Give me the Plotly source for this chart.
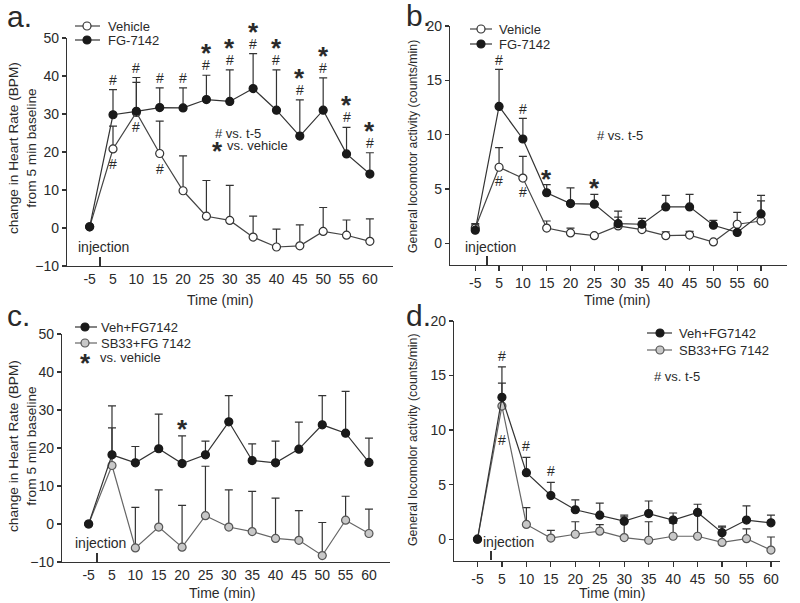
import plotly.graph_objects as go

# ---------------- data ----------------
time_labels = ["-5", "5", "10", "15", "20", "25", "30", "35", "40", "45", "50", "55", "60"]

# panel a: heart rate, Vehicle vs FG-7142
a_veh_mean = [0.3, 20.8, 30.4, 19.6, 9.8, 3.1, 2.0, -2.4, -5.0, -4.7, -0.9, -1.9, -3.5]
a_veh_sem = [0, 6.0, 7.9, 8.5, 9.2, 9.4, 9.2, 5.5, 4.7, 5.5, 6.3, 4.0, 5.9]
a_fg_mean = [0.3, 29.8, 30.7, 31.7, 31.6, 33.8, 33.3, 36.7, 31.0, 24.2, 31.0, 19.5, 14.2]
a_fg_sem = [0, 6.6, 8.9, 5.2, 5.3, 6.4, 8.3, 9.2, 10.6, 9.5, 8.5, 7.0, 5.6]
a_hash_fg = ["5", "10", "15", "20", "25", "30", "35", "40", "45", "50", "55", "60"]
a_star_fg = ["25", "30", "35", "40", "45", "50", "55", "60"]
a_hash_veh = ["5", "10", "15"]

# panel b: locomotor activity, Vehicle vs FG-7142
b_veh_mean = [1.4, 7.0, 6.0, 1.4, 0.95, 0.7, 1.6, 1.26, 0.7, 0.75, 0.12, 1.75, 2.05]
b_veh_sem = [0.3, 1.8, 2.0, 0.65, 0.45, 0, 0.8, 0.4, 0.35, 0.35, 0, 1.1, 1.85]
b_fg_mean = [1.2, 12.6, 9.6, 4.65, 3.65, 3.6, 1.8, 1.75, 3.35, 3.35, 1.66, 1.0, 2.7]
b_fg_sem = [0.6, 3.4, 1.9, 0.75, 1.45, 0.9, 1.15, 0.55, 1.05, 1.15, 0.45, 0, 1.7]
b_hash_fg = ["5", "10"]
b_star_fg = ["15", "25"]
b_hash_veh = ["5", "10"]

# panel c: heart rate, Veh+FG7142 vs SB33+FG 7142
c_vfg_mean = [0, 18.2, 16.1, 19.8, 15.9, 18.2, 26.9, 16.7, 16.1, 19.7, 26.1, 23.9, 16.2]
c_vfg_sem = [0, 12.9, 4.3, 9.1, 7.3, 3.6, 6.9, 4.4, 5.7, 7.1, 7.7, 11.0, 6.4]
c_sb_mean = [0, 15.4, -6.3, -0.8, -6.1, 2.2, -0.8, -2.0, -3.8, -4.3, -8.3, 1.0, -2.5]
c_sb_sem = [0, 9.9, 10.7, 9.8, 11.0, 13.0, 9.8, 10.6, 10.6, 7.8, 8.7, 6.3, 6.4]
c_star_vfg = ["20"]

# panel d: locomotor activity, Veh+FG7142 vs SB33+FG 7142
d_vfg_mean = [0, 13.0, 6.1, 4.0, 2.7, 2.2, 1.65, 2.35, 1.75, 2.45, 0.6, 1.75, 1.5]
d_vfg_sem = [0, 2.8, 1.4, 1.2, 0.9, 1.1, 0.55, 1.15, 0.65, 0.75, 0.6, 1.3, 0.7]
d_sb_mean = [0, 12.2, 1.35, 0.1, 0.45, 0.73, 0.15, -0.1, 0.27, 0.27, -0.3, 0.05, -1.0]
d_sb_sem = [0, 2.1, 1.55, 0.7, 1.15, 0.6, 1.9, 1.7, 1.2, 2.3, 1.4, 0.9, 1.2]
d_hash_vfg = ["5", "10", "15"]
d_hash_sb = ["5"]

# ---------------- styling ----------------
W, H = 800, 603
FONT = "Liberation Sans, Arial, sans-serif"
TXT = "#2a2a2a"
AX = "#333333"
xpos = list(range(len(time_labels)))


def px(x):
    return x / W


def py(y):
    return 1 - y / H


STYLES = {
    "open": dict(fill="white", edge="#333333", line="#444444"),
    "filled": dict(fill="#1a1a1a", edge="#1a1a1a", line="#333333"),
    "gray": dict(fill="#c8c8c8", edge="#555555", line="#666666"),
}

fig = go.Figure()


def add_series(mean, sem, style, xa, ya):
    st = STYLES[style]
    fig.add_trace(go.Scatter(
        x=xpos, y=mean, mode="lines+markers", xaxis=xa, yaxis=ya,
        line=dict(color=st["line"], width=1.2),
        marker=dict(size=8, color=st["fill"], line=dict(color=st["edge"], width=1.2)),
        error_y=dict(type="data", symmetric=False, array=sem, arrayminus=[0] * len(sem),
                     color="#333333", thickness=1.2, width=4),
        showlegend=False, hoverinfo="skip"))


add_series(a_veh_mean, a_veh_sem, "open", "x", "y")
add_series(a_fg_mean, a_fg_sem, "filled", "x", "y")
add_series(b_veh_mean, b_veh_sem, "open", "x2", "y2")
add_series(b_fg_mean, b_fg_sem, "filled", "x2", "y2")
add_series(c_sb_mean, c_sb_sem, "gray", "x3", "y3")
add_series(c_vfg_mean, c_vfg_sem, "filled", "x3", "y3")
add_series(d_sb_mean, d_sb_sem, "gray", "x4", "y4")
add_series(d_vfg_mean, d_vfg_sem, "filled", "x4", "y4")

annotations = []
shapes = []
STAR_SIZE = 26


def ann(text, x, y, xref="paper", yref="paper", size=14, xanchor="center",
        yanchor="middle", xshift=0, yshift=0, angle=0):
    annotations.append(dict(text=text, x=x, y=y, xref=xref, yref=yref, showarrow=False,
                            font=dict(size=size, color=TXT, family=FONT),
                            xanchor=xanchor, yanchor=yanchor, xshift=xshift,
                            yshift=yshift, textangle=angle))


def star(x, y, xref="paper", yref="paper", yshift=0):
    ann("<b>*</b>", x, y, xref, yref, size=STAR_SIZE, yshift=yshift - 6)


def marks(labels, mean, sem, xref, yref, sym, shift, from_top=True):
    for lab in labels:
        i = time_labels.index(lab)
        yv = mean[i] + sem[i] if from_top else mean[i]
        if sym == "*":
            star(xpos[i], yv, xref, yref, yshift=shift)
        else:
            ann("#", xpos[i], yv, xref, yref, size=14, yshift=shift)


# significance markers
marks(a_hash_fg, a_fg_mean, a_fg_sem, "x", "y", "#", 10)
marks(a_star_fg, a_fg_mean, a_fg_sem, "x", "y", "*", 28)
marks(a_hash_veh, a_veh_mean, a_veh_sem, "x", "y", "#", -15, from_top=False)
marks(b_hash_fg, b_fg_mean, b_fg_sem, "x2", "y2", "#", 9)
marks(b_star_fg, b_fg_mean, b_fg_sem, "x2", "y2", "*", 12)
marks(b_hash_veh, b_veh_mean, b_veh_sem, "x2", "y2", "#", -14, from_top=False)
marks(c_star_vfg, c_vfg_mean, c_vfg_sem, "x3", "y3", "*", 13)
marks(d_hash_vfg, d_vfg_mean, d_vfg_sem, "x4", "y4", "#", 11)
marks(d_hash_sb, d_sb_mean, d_sb_sem, "x4", "y4", "#", -34, from_top=False)


def legend_item(x0, x1, xm, y, style, text, tx):
    st = STYLES[style]
    shapes.append(dict(type="line", xref="paper", yref="paper", x0=px(x0), x1=px(x1),
                       y0=py(y), y1=py(y), line=dict(color=st["line"], width=1.2)))
    shapes.append(dict(type="circle", xref="paper", yref="paper", xsizemode="pixel",
                       ysizemode="pixel", xanchor=px(xm), yanchor=py(y), x0=-4, x1=4,
                       y0=-4, y1=4, fillcolor=st["fill"],
                       line=dict(color=st["edge"], width=1.2)))
    ann(text, px(tx), py(y), size=13, xanchor="left")


# legends
legend_item(75, 100, 87, 26, "open", "Vehicle", 106)
legend_item(75, 100, 87, 40, "filled", "FG-7142", 106)
legend_item(470, 492, 481, 29, "open", "Vehicle", 497)
legend_item(470, 492, 481, 44, "filled", "FG-7142", 497)
legend_item(75, 97, 85, 327, "filled", "Veh+FG7142", 99)
legend_item(75, 97, 85, 343, "gray", "SB33+FG 7142", 99)
legend_item(647, 672, 660, 333, "filled", "Veh+FG7142", 677)
legend_item(647, 672, 660, 350, "gray", "SB33+FG 7142", 677)

# key texts
ann("# vs. t-5", px(213), py(133), size=13, xanchor="left")
star(px(217), py(145))
ann("vs. vehicle", px(225), py(145), size=13, xanchor="left")
ann("# vs. t-5", px(595), py(136), size=13, xanchor="left")
star(px(85), py(357))
ann("vs. vehicle", px(98), py(357), size=13, xanchor="left")
ann("# vs. t-5", px(652), py(376), size=13, xanchor="left")

# injection marks
for xc, xt, ybase, ytext in [(100, 103, 266, 247), (487, 490, 265, 247),
                             (97, 100, 562, 543), (491, 508, 560, 542)]:
    shapes.append(dict(type="line", xref="paper", yref="paper", x0=px(xc), x1=px(xc),
                       y0=py(ybase), y1=py(ybase - 9), line=dict(color=AX, width=2)))
    ann("injection", px(xt), py(ytext), size=14)

# panel letters
ann("a.", px(5), py(17), size=30, xanchor="left")
ann("b.", px(404), py(16), size=30, xanchor="left")
ann("c.", px(5), py(315), size=30, xanchor="left")
ann("d.", px(404), py(315), size=30, xanchor="left")

# axis titles
ann("change in Heart Rate (BPM)<br>from 5 min baseline", px(22), py(148), size=13.7, angle=-90)
ann("change in Heart Rate (BPM)<br>from 5 min baseline", px(22), py(446), size=13.7, angle=-90)
ann("General locomotor activity (counts/min)", px(413), py(147), size=12.3, angle=-90)
ann("General locomolor activity (counts/min)", px(413), py(440), size=12.3, angle=-90)
ann("Time (min)", px(220), py(300), size=14)
ann("Time (min)", px(617), py(300), size=14)
ann("Time (min)", px(222), py(593), size=14)
ann("Time (min)", px(612), py(593), size=14)


def xaxis(domain, rng, ticks, anchor):
    return dict(domain=domain, range=rng, tickmode="array", tickvals=xpos,
                ticktext=time_labels, showgrid=False, zeroline=False, showline=True,
                linecolor=AX, linewidth=1.2, ticks="outside" if ticks else "",
                ticklen=5, tickcolor=AX, tickwidth=1.2, automargin=False, anchor=anchor,
                tickfont=dict(size=14, color=TXT, family=FONT), fixedrange=True)


def yaxis(domain, rng, tickvals, anchor):
    return dict(domain=domain, range=rng, tickmode="array", tickvals=tickvals,
                showgrid=False, zeroline=False, showline=True, linecolor=AX,
                linewidth=1.2, ticks="outside", ticklen=4, tickcolor=AX, tickwidth=1.2,
                tickfont=dict(size=14, color=TXT, family=FONT), anchor=anchor,
                automargin=False, fixedrange=True)


fig.update_layout(
    template="none",
    width=W, height=H, margin=dict(l=0, r=0, t=0, b=0, pad=0), autosize=False,
    paper_bgcolor="white", plot_bgcolor="white",
    font=dict(family=FONT, color=TXT), hovermode=False,
    xaxis=xaxis([px(67), px(393)], [-0.97, 12.99], False, "y"),
    yaxis=yaxis([py(266), py(38)], [-10, 50], [-10, 0, 10, 20, 30, 40, 50], "x"),
    xaxis2=xaxis([px(450), px(787)], [-1.06, 13.09], True, "y2"),
    yaxis2=yaxis([py(265), py(26)], [-2, 20], [0, 5, 10, 15, 20], "x2"),
    xaxis3=xaxis([px(62), px(390)], [-1.14, 12.9], False, "y3"),
    yaxis3=yaxis([py(562), py(334)], [-10, 50], [-10, 0, 10, 20, 30, 40, 50], "x3"),
    xaxis4=xaxis([px(454), px(780)], [-0.96, 12.37], True, "y4"),
    yaxis4=yaxis([py(561), py(321)], [-2, 20], [0, 5, 10, 15, 20], "x4"),
    annotations=annotations, shapes=shapes,
)

# remove the browser's default 8px page margin so the figure sits at the window origin
fig.write_html("out.html", config={"displayModeBar": False, "staticPlot": True},
               post_script="document.body.style.margin='0px';document.body.style.overflow='hidden';")
